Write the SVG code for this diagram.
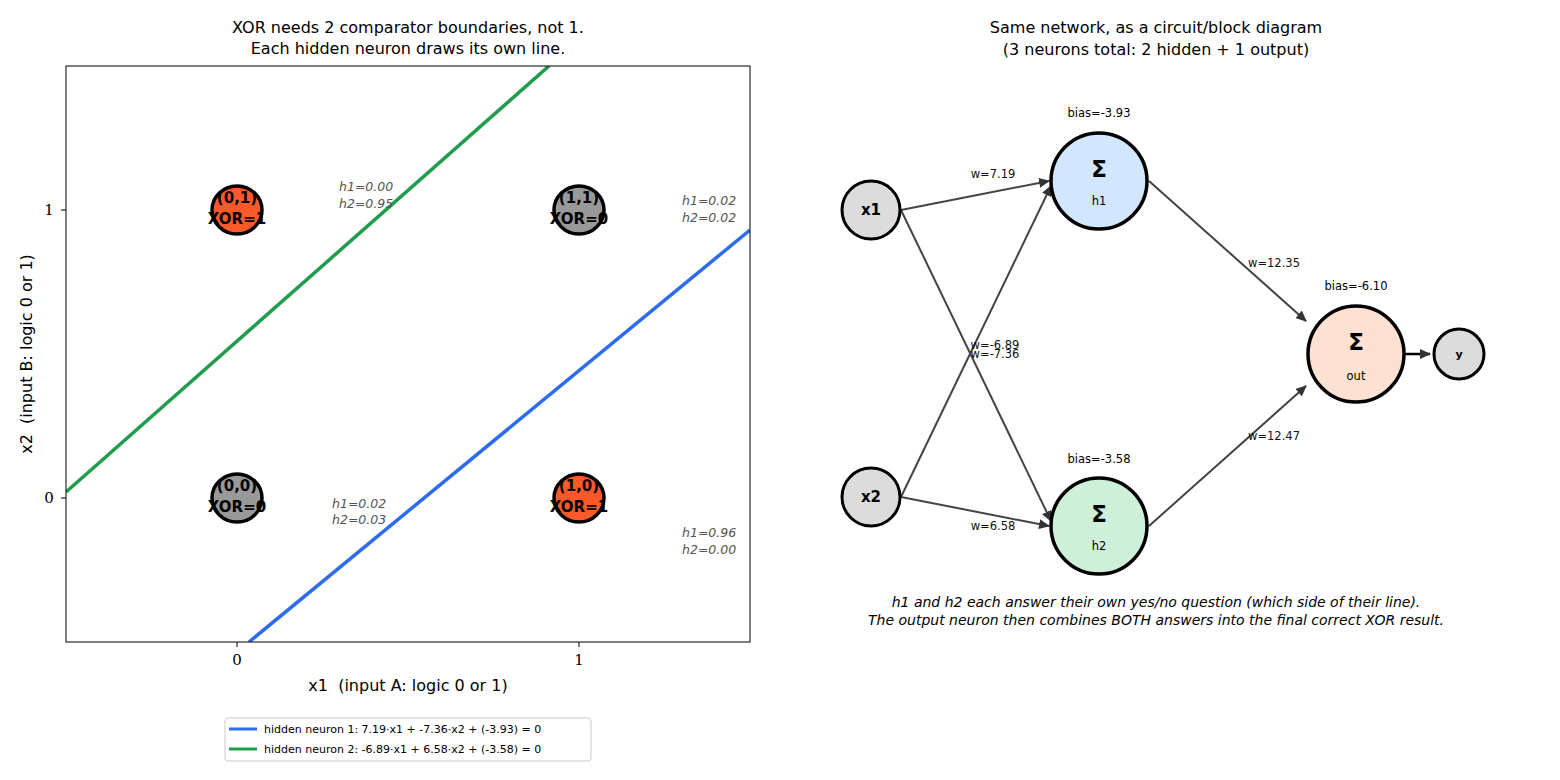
<svg xmlns="http://www.w3.org/2000/svg" width="1560" height="780" viewBox="0 0 1560 780">
<style>
text{font-family:"DejaVu Sans",sans-serif;fill:#000}
.t{font-size:16px;text-anchor:middle}
.ax{font-size:16px}
.tk{font-size:15px;text-anchor:middle;font-family:"DejaVu Serif",serif}
.pt{font-size:15px;font-weight:bold;text-anchor:middle}
.h{font-size:12.5px;font-style:italic;fill:#555}
.w{font-size:11.5px;text-anchor:middle;fill:#111}
.in{font-size:15px;font-weight:bold;text-anchor:middle}
.sg{font-size:23px;font-weight:bold;text-anchor:middle}
.nl{font-size:11.5px;text-anchor:middle}
.e{stroke:#444;stroke-width:2;fill:none;marker-end:url(#a)}
</style>
<defs><marker id="a" markerWidth="11" markerHeight="10" refX="10" refY="5" orient="auto" markerUnits="userSpaceOnUse"><path d="M0,0L11,5L0,10z" fill="#333"/></marker>
<clipPath id="c"><rect x="66" y="66" width="684" height="576"/></clipPath></defs>
<rect width="1560" height="780" fill="#fff"/>
<text class="t" x="408" y="33">XOR needs 2 comparator boundaries, not 1.</text>
<text class="t" x="408" y="54">Each hidden neuron draws its own line.</text>
<g clip-path="url(#c)">
<line x1="249" y1="642" x2="750" y2="230" stroke="#2d6bef" stroke-width="3.5"/>
<line x1="66" y1="492" x2="549" y2="66" stroke="#1f9d4c" stroke-width="3.5"/>
</g>
<rect x="66" y="66" width="684" height="576" fill="none" stroke="#000" stroke-width="1"/>
<g stroke="#000"><line x1="237" y1="642" x2="237" y2="647"/><line x1="579" y1="642" x2="579" y2="647"/><line x1="61" y1="210" x2="66" y2="210"/><line x1="61" y1="498" x2="66" y2="498"/></g>
<text class="tk" x="237" y="665">0</text><text class="tk" x="579" y="665">1</text>
<text class="tk" x="49" y="215">1</text><text class="tk" x="49" y="503">0</text>
<text class="ax" x="408" y="691" text-anchor="middle" xml:space="preserve">x1  (input A: logic 0 or 1)</text>
<text class="ax" transform="translate(32,354) rotate(-90)" text-anchor="middle" xml:space="preserve">x2  (input B: logic 0 or 1)</text>
<g id="p01"><ellipse cx="237" cy="210" rx="25" ry="24" fill="#fa5a2a" stroke="#000" stroke-width="3.5"/><text class="pt" x="237" y="203">(0,1)</text><text class="pt" x="237" y="224">XOR=1</text></g>
<g id="p11"><ellipse cx="579" cy="210" rx="25" ry="24" fill="#999" stroke="#000" stroke-width="3.5"/><text class="pt" x="579" y="203">(1,1)</text><text class="pt" x="579" y="224">XOR=0</text></g>
<g id="p00"><ellipse cx="237" cy="498" rx="25" ry="24" fill="#999" stroke="#000" stroke-width="3.5"/><text class="pt" x="237" y="491">(0,0)</text><text class="pt" x="237" y="512">XOR=0</text></g>
<g id="p10"><ellipse cx="579" cy="498" rx="25" ry="24" fill="#fa5a2a" stroke="#000" stroke-width="3.5"/><text class="pt" x="579" y="491">(1,0)</text><text class="pt" x="579" y="512">XOR=1</text></g>
<text class="h" x="339" y="191">h1=0.00</text><text class="h" x="339" y="208">h2=0.95</text>
<text class="h" x="682" y="205">h1=0.02</text><text class="h" x="682" y="222">h2=0.02</text>
<text class="h" x="332" y="508">h1=0.02</text><text class="h" x="332" y="524">h2=0.03</text>
<text class="h" x="682" y="537">h1=0.96</text><text class="h" x="682" y="554">h2=0.00</text>
<g id="legend"><rect x="225" y="718" width="366" height="43" rx="3" fill="#fff" stroke="#ccc"/>
<line x1="229" y1="729" x2="257" y2="729" stroke="#2d6bef" stroke-width="3"/>
<line x1="229" y1="749" x2="257" y2="749" stroke="#1f9d4c" stroke-width="3"/>
<text x="264" y="733" font-size="11">hidden neuron 1: 7.19·x1 + -7.36·x2 + (-3.93) = 0</text>
<text x="264" y="753" font-size="11">hidden neuron 2: -6.89·x1 + 6.58·x2 + (-3.58) = 0</text></g>
<text class="t" x="1156" y="33">Same network, as a circuit/block diagram</text>
<text class="t" x="1156" y="55">(3 neurons total: 2 hidden + 1 output)</text>
<g id="connectors">
<line class="e" x1="901" y1="210" x2="1049" y2="181"/>
<line class="e" x1="901" y1="210" x2="1051" y2="521"/>
<line class="e" x1="901" y1="497" x2="1051" y2="186"/>
<line class="e" x1="901" y1="497" x2="1049" y2="526"/>
<line class="e" x1="1149" y1="181" x2="1306" y2="321"/>
<line class="e" x1="1149" y1="526" x2="1306" y2="386"/>
<line x1="1405" y1="354" x2="1430" y2="354" stroke="#000" stroke-width="2.5" marker-end="url(#a)"/>
<text class="w" x="993" y="178">w=7.19</text>
<text class="w" x="993" y="530">w=6.58</text>
<text class="w" x="995" y="349">w=-6.89</text>
<text class="w" x="995" y="358">w=-7.36</text>
<text class="w" x="1274" y="267">w=12.35</text>
<text class="w" x="1274" y="440">w=12.47</text>
</g>
<g id="x1"><ellipse cx="871" cy="210" rx="29" ry="29" fill="#dcdcdc" stroke="#000" stroke-width="3"/><text class="in" x="871" y="215">x1</text></g>
<g id="x2"><ellipse cx="871" cy="497" rx="29" ry="29" fill="#dcdcdc" stroke="#000" stroke-width="3"/><text class="in" x="871" y="502">x2</text></g>
<g id="h1"><text class="nl" x="1099" y="117">bias=-3.93</text><ellipse cx="1099" cy="181" rx="48" ry="48" fill="#d2e6fe" stroke="#000" stroke-width="3.5"/><text class="sg" x="1099" y="177">Σ</text><text class="nl" x="1099" y="205">h1</text></g>
<g id="h2"><text class="nl" x="1099" y="463">bias=-3.58</text><ellipse cx="1099" cy="526" rx="48" ry="48" fill="#cff0d8" stroke="#000" stroke-width="3.5"/><text class="sg" x="1099" y="522">Σ</text><text class="nl" x="1099" y="550">h2</text></g>
<g id="out"><text class="nl" x="1356" y="290">bias=-6.10</text><ellipse cx="1356" cy="354" rx="48" ry="48" fill="#fde1d2" stroke="#000" stroke-width="3.5"/><text class="sg" x="1356" y="350">Σ</text><text class="nl" x="1356" y="380">out</text></g>
<g id="y"><ellipse cx="1459" cy="354" rx="25" ry="25" fill="#dcdcdc" stroke="#000" stroke-width="3"/><text x="1459" y="358" font-size="11" font-weight="bold" text-anchor="middle">y</text></g>
<text x="1156" y="607" font-size="14" font-style="italic" text-anchor="middle">h1 and h2 each answer their own yes/no question (which side of their line).</text>
<text x="1156" y="625" font-size="14" font-style="italic" text-anchor="middle">The output neuron then combines BOTH answers into the final correct XOR result.</text>
</svg>
